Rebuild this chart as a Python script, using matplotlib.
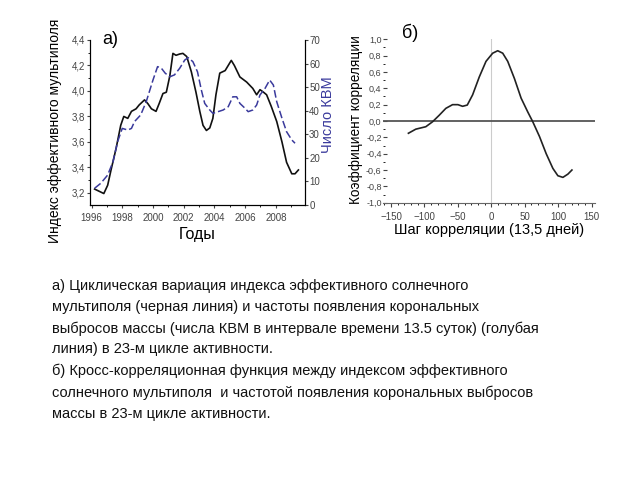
import numpy as np
import matplotlib
matplotlib.use('Agg')
from matplotlib import pyplot as plt
from matplotlib.ticker import MultipleLocator, FuncFormatter

plt.rcParams['font.family'] = ['Liberation Sans', 'DejaVu Sans']

# panel a) - effective multipole index (left axis) and CME count (right axis)
mult_years = [1996.2, 1996.8, 1997.05, 1997.27, 1997.6, 1997.9, 1998.1, 1998.36,
              1998.6, 1998.9, 1999.1, 1999.45, 1999.67, 1999.9, 2000.2, 2000.4,
              2000.65, 2000.87, 2001.1, 2001.3, 2001.5, 2001.74, 2001.95, 2002.2,
              2002.5, 2002.8, 2003.05, 2003.26, 2003.48, 2003.7, 2003.9, 2004.1,
              2004.35, 2004.7, 2004.9, 2005.1, 2005.3, 2005.66, 2006.1, 2006.5,
              2006.75, 2006.97, 2007.2, 2007.4, 2007.7, 2008.06, 2008.4, 2008.7,
              2009.04, 2009.25, 2009.47]
mult_index = [3.23, 3.195, 3.26, 3.38, 3.55, 3.73, 3.80, 3.785,
              3.84, 3.86, 3.89, 3.93, 3.90, 3.86, 3.84, 3.90,
              3.98, 3.99, 4.12, 4.295, 4.28, 4.29, 4.295, 4.27,
              4.15, 3.99, 3.84, 3.73, 3.69, 3.71, 3.785, 3.97,
              4.14, 4.16, 4.20, 4.24, 4.20, 4.11, 4.07, 4.02,
              3.97, 4.01, 3.99, 3.97, 3.88, 3.76, 3.60, 3.44,
              3.35, 3.35, 3.38]

cme_years = [1996.2, 1996.6, 1997.05, 1997.4, 1997.7, 1998.0, 1998.36, 1998.6,
             1998.8, 1999.0, 1999.2, 1999.56, 2000.0, 2000.3, 2000.55, 2000.8,
             2001.1, 2001.4, 2001.74, 2002.07, 2002.3, 2002.6, 2002.9, 2003.15,
             2003.37, 2003.7, 2003.9, 2004.24, 2004.57, 2004.9, 2005.2, 2005.45,
             2005.66, 2006.0, 2006.2, 2006.5, 2006.75, 2006.97, 2007.3, 2007.6,
             2007.84, 2008.06, 2008.4, 2008.7, 2009.04, 2009.25]
cme_count = [7.1, 9.2, 12.7, 18.4, 26.9, 32.5, 31.8, 32.5,
             35.4, 36.8, 38.2, 43.8, 53.0, 58.7, 58.0, 55.9,
             54.4, 55.2, 58.0, 61.5, 62.5, 60.8, 56.5, 48.8,
             43.1, 40.3, 38.9, 39.6, 40.3, 41.7, 45.9, 45.9,
             43.1, 41.0, 39.6, 40.3, 42.4, 46.7, 49.5, 53.0,
             50.9, 43.8, 36.8, 31.1, 27.6, 26.2]

# panel b) - cross-correlation function
lag = [-124, -113, -98, -88, -78, -68, -58, -50, -43, -36, -28, -18, -8, 2,
       9.5, 17, 24.5, 34.5, 44.5, 54.5, 62, 72, 82, 92, 99.5, 107, 114.5, 120.5]
corr = [-0.15, -0.10, -0.07, -0.01, 0.07, 0.155, 0.20, 0.20, 0.18, 0.195, 0.32,
        0.54, 0.73, 0.83, 0.86, 0.83, 0.73, 0.52, 0.28, 0.11, -0.01, -0.19,
        -0.40, -0.58, -0.67, -0.69, -0.65, -0.60]

caption = ("а) Циклическая вариация индекса эффективного солнечного\n"
           "мультиполя (черная линия) и частоты появления корональных\n"
           "выбросов массы (числа КВМ в интервале времени 13.5 суток) (голубая\n"
           "линия) в 23-м цикле активности.\n"
           "б) Кросс-корреляционная функция между индексом эффективного\n"
           "солнечного мультиполя  и частотой появления корональных выбросов\n"
           "массы в 23-м цикле активности.")

tick_col = '#444444'
blue = '#3a3a9c'


def comma(v, pos):
    return ('%.1f' % v).replace('.', ',')


fig = plt.figure(figsize=(6.4, 4.8), dpi=100)

# ---- panel a)
ax = fig.add_axes([90 / 640, 1 - 205 / 480, 215 / 640, 165 / 480])
ax.plot(mult_years, mult_index, color='#111111', lw=1.2)
ax.set_xlim(1995.9, 2009.9)
ax.set_ylim(3.105, 4.4)
ax.set_xticks(np.arange(1996, 2009, 2))
ax.xaxis.set_minor_locator(MultipleLocator(1))
ax.yaxis.set_major_locator(MultipleLocator(0.2))
ax.yaxis.set_minor_locator(MultipleLocator(0.1))
ax.yaxis.set_major_formatter(FuncFormatter(comma))
ax.spines['top'].set_visible(False)
ax.tick_params(labelsize=7, colors=tick_col, length=2.5, width=0.8)
ax.tick_params(axis='y', pad=1)
ax.tick_params(which='minor', length=1.5)
ax.set_ylabel('Индекс эффективного мультиполя', fontsize=10)
ax.yaxis.set_label_coords(-0.13, 0.45)
ax.set_xlabel('Годы', fontsize=11.5, labelpad=3)
ax.text(0.093, 1.0, 'а)', transform=ax.transAxes, fontsize=13,
        ha='center', va='center')

ax2 = ax.twinx()
ax2.plot(cme_years, cme_count, color=blue, lw=1.1, ls=(0, (5, 2)))
ax2.set_ylim(0, 70)
ax2.yaxis.set_major_locator(MultipleLocator(10))
ax2.spines['top'].set_visible(False)
ax2.tick_params(labelsize=7, colors=tick_col, length=2, width=0.8, pad=1)
ax2.set_ylabel('Число КВМ', fontsize=10.5, color=blue)
ax2.yaxis.set_label_coords(1.074, 0.545)

# ---- panel b)
bx = fig.add_axes([383 / 640, 1 - 202.7 / 480, 212 / 640, 163.4 / 480])
bx.axvline(0, color='#cccccc', lw=0.8)
bx.axhline(0, color='#555555', lw=1.3)
bx.plot(lag, corr, color='#222222', lw=1.2)
bx.set_xlim(-162, 155)
bx.set_ylim(-1.0, 1.0)
bx.set_xticks(np.arange(-150, 151, 50))
bx.xaxis.set_minor_locator(MultipleLocator(10))
bx.yaxis.set_major_locator(MultipleLocator(0.2))
bx.yaxis.set_minor_locator(MultipleLocator(0.1))
bx.yaxis.set_major_formatter(FuncFormatter(comma))
for side in ('top', 'right', 'left'):
    bx.spines[side].set_visible(False)
bx.spines['bottom'].set_color('#666666')
bx.tick_params(labelsize=7, colors=tick_col, length=3, width=0.8)
bx.tick_params(axis='y', labelsize=6.5)
bx.tick_params(which='minor', length=1.5)
bx.tick_params(axis='y', which='both', direction='in', pad=1)
bx.set_ylabel('Коэффициент корреляции', fontsize=9.8)
bx.yaxis.set_label_coords(-0.093, 0.506)
bx.set_xlabel('Шаг корреляции (13,5 дней)', fontsize=10.5, labelpad=1)
bx.text(0.127, 1.04, 'б)', transform=bx.transAxes, fontsize=13,
        ha='center', va='center')

fig.text(52 / 640, 1 - 279 / 480, caption, fontsize=10.5, va='top', ha='left',
         linespacing=1.63, color='#111111')

fig.savefig('out.png', dpi=100)
